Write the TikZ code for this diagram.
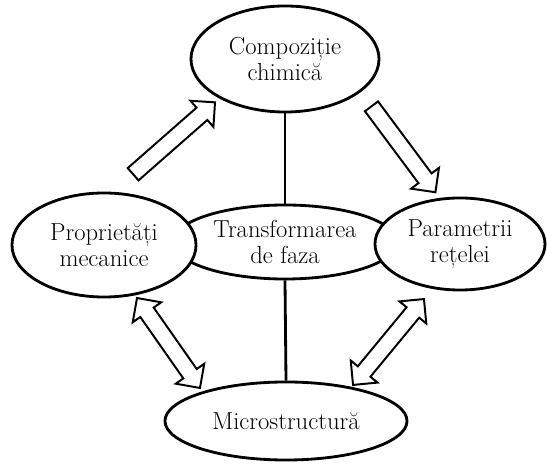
\documentclass[tikz,border=0pt]{standalone}
\usetikzlibrary{shapes.geometric, shapes.arrows, calc}

\begin{document}
\begin{tikzpicture}[
    % GLOBAL CFG
    x=0.025cm, y=-0.025cm,
    font=\fontsize{17.5}{18.5}\selectfont,
    % Styles
    bubble/.style={% For the ellipses
        ellipse,
        draw,
        fill=white,
        line width=2pt,
        inner sep=0pt,
        align=center,
        },
    link/.style={% Plain connecting lines
        line width=2pt,
        },
    blockarrow/.style={% Hollow arrow, one head
        single arrow,
        draw,
        fill=white,
        line width=1.4pt,
        inner xsep=0pt,
        inner ysep=0.18cm,
        single arrow head extend=0.23cm,
        },
    twoway/.style={% Hollow arrow, two heads
        double arrow,
        draw,
        fill=white,
        line width=1.4pt,
        inner xsep=0pt,
        inner ysep=0.18cm,
        double arrow head extend=0.23cm,
        },
    ]

    \useasboundingbox (0,0) rectangle (547,464);

    % Center ellipse goes first, the side ones cover its ends
    \node [bubble, minimum width=5.6cm, minimum height=1.85cm] (trans) at (285,242) {Transformarea\\de faza};

    % Draw the other ellipses
    \node [bubble, minimum width=4.7cm, minimum height=2.65cm] (comp) at (285,59) {Compoziție\\chimică};
    \node [bubble, minimum width=4.6cm, minimum height=2.6cm] (prop) at (104,245) {Proprietăți\\mecanice};
    \node [bubble, minimum width=4.25cm, minimum height=2.3cm] (param) at (460,244) {Parametrii\\rețelei};
    \node [bubble, minimum width=6.05cm, minimum height=1.95cm] (micro) at (286,421) {Microstructură};

    % Straight links
    \draw [link] (comp.south) -- (trans.north);
    \draw [link] (trans.south) -- (micro.north);

    % Ends of the block arrows
    \coordinate (a1s) at (130,177);
    \coordinate (a1e) at (212,105);
    \coordinate (a2s) at (369,103);
    \coordinate (a2e) at (433,189);
    \coordinate (a3s) at (137,298);
    \coordinate (a3e) at (200,388);
    \coordinate (a4s) at (424,299);
    \coordinate (a4e) at (353,385);

    % Block arrows
    \foreach \s/\e/\kind in {a1s/a1e/blockarrow, a2s/a2e/blockarrow, a3s/a3e/twoway, a4s/a4e/twoway}{
        \path let \p1=($(\e)-(\s)$), \n1={atan2(\y1,\x1)}, \n2={veclen(\x1,\y1)} in
            node [\kind, minimum height=\n2, rotate=\n1] at ($(\s)!0.5!(\e)$) {};
    }

\end{tikzpicture}
\end{document}
